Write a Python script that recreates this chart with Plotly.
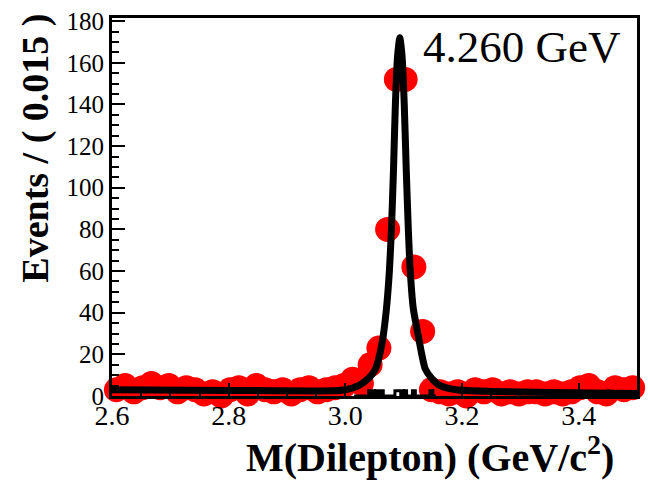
import plotly.graph_objects as go

# ---- data ----
bin_centers = [2.6075, 2.6225, 2.6375, 2.6525, 2.6675, 2.6825, 2.6975, 2.7125, 2.7275, 2.7425,
               2.7575, 2.7725, 2.7875, 2.8025, 2.8175, 2.8325, 2.8475, 2.8625, 2.8775, 2.8925,
               2.9075, 2.9225, 2.9375, 2.9525, 2.9675, 2.9825, 2.9975, 3.0125, 3.0275, 3.0425,
               3.0575, 3.0725, 3.0875, 3.1025, 3.1175, 3.1325, 3.1475, 3.1625, 3.1775, 3.1925,
               3.2075, 3.2225, 3.2375, 3.2525, 3.2675, 3.2825, 3.2975, 3.3125, 3.3275, 3.3425,
               3.3575, 3.3725, 3.3875, 3.4025, 3.4175, 3.4325, 3.4475, 3.4625, 3.4775, 3.4925]
counts = [3, 5, 2, 4, 6, 4, 5, 2, 4, 3,
          1, 2, 0, 3, 4, 1, 5, 3, 2, 3,
          1, 3, 4, 2, 3, 4, 5, 8, 6, 15,
          23, 80, 152, 152, 62, 31, 3, 2, 1, 2,
          0, 3, 2, 3, 1, 2, 1, 2, 2, 1,
          2, 1, 2, 4, 5, 2, 1, 4, 3, 4]

fit_x = [2.60, 2.80, 2.98, 3.00, 3.0227, 3.04, 3.0517, 3.059, 3.065, 3.0705, 3.0755, 3.079,
         3.0825, 3.0858, 3.0895, 3.0934, 3.0973, 3.101, 3.1045, 3.108, 3.1113, 3.1165,
         3.125, 3.131, 3.137, 3.148, 3.1625, 3.19, 3.25, 3.35, 3.50]
fit_y = [3.0, 2.7, 2.5, 3.0, 5.0, 8.5, 13, 20, 29, 42, 60, 80,
         108, 140, 163, 172, 163, 140, 108, 80, 60, 42,
         29, 20, 13, 8.5, 5.0, 3.0, 2.2, 1.7, 1.2]

bkg_edges = [3.015, 3.020, 3.025, 3.030, 3.035, 3.040, 3.045, 3.050, 3.055, 3.060,
             3.065, 3.070, 3.075, 3.080, 3.085, 3.090, 3.095, 3.100, 3.105, 3.110,
             3.115, 3.120, 3.125, 3.130, 3.135, 3.140, 3.145, 3.150, 3.155]
bkg_vals = [0, 0, 0, 0, 0, 2.5, 0, 2.5, 0, 2.5,
            0, 0, 0, 0, 2.5, 2.5, 0, 2.5, 0, 0,
            2.5, 0, 0, 0, 0, 0, 2.5, 0]

x_ticks = [2.6, 2.8, 3.0, 3.2, 3.4]
x_ticklabels = ["2.6", "2.8", "3.0", "3.2", "3.4"]
y_ticks = [0, 20, 40, 60, 80, 100, 120, 140, 160, 180]

energy_label = "4.260 GeV"
x_title = "M(Dilepton) (GeV/c<sup>2</sup>)"
y_title = "Events / ( 0.015 )"

SERIF = "Liberation Serif, Times New Roman, serif"

fig = go.Figure()

fig.add_trace(go.Scatter(
    x=bin_centers, y=counts, mode="markers",
    marker=dict(symbol="circle", size=25, color="#ff0000", line=dict(width=0)),
    cliponaxis=False, showlegend=False))

fig.add_trace(go.Scatter(
    x=bkg_edges, y=bkg_vals + [bkg_vals[-1]], mode="lines",
    line=dict(color="black", width=3, shape="hv"),
    showlegend=False))

fig.add_trace(go.Scatter(
    x=fit_x, y=fit_y, mode="lines",
    line=dict(color="black", width=7, shape="spline", smoothing=0.6),
    showlegend=False))

fig.update_layout(
    width=648, height=482,
    margin=dict(l=112, r=8, t=13, b=86),
    paper_bgcolor="white", plot_bgcolor="white",
    font=dict(family=SERIF, color="black"),
    xaxis=dict(range=[2.6, 3.5], tickvals=x_ticks, ticktext=x_ticklabels,
               ticks="inside", ticklen=13, tickwidth=1.5, tickcolor="black",
               ticklabelstandoff=-8,
               minor=dict(dtick=0.05, ticks="inside", ticklen=7, tickwidth=1.5, tickcolor="black"),
               showline=True, linewidth=3, linecolor="black", mirror=True,
               showgrid=False, zeroline=False,
               tickfont=dict(family=SERIF, size=28, color="black")),
    yaxis=dict(range=[0, 181.5], tickvals=y_ticks,
               ticks="inside", ticklen=13, tickwidth=1.5, tickcolor="black",
               minor=dict(dtick=5, ticks="inside", ticklen=7, tickwidth=1.5, tickcolor="black"),
               showline=True, linewidth=3, linecolor="black", mirror=True,
               showgrid=False, zeroline=False,
               tickfont=dict(family=SERIF, size=25, color="black")),
    annotations=[
        dict(text=energy_label, xref="paper", yref="paper", x=0.589, y=0.924,
             xanchor="left", yanchor="middle", showarrow=False,
             font=dict(family=SERIF, size=45, color="black")),
        dict(text="<b>" + x_title + "</b>", xref="paper", yref="paper",
             x=(432 - 112) / 528, y=-(455 - 396) / 383,
             xanchor="center", yanchor="middle", showarrow=False,
             font=dict(family=SERIF, size=40, color="black")),
        dict(text="<b>" + y_title + "</b>", xref="paper", yref="paper",
             x=-(112 - 35) / 528, y=1 - (145 - 13) / 383, textangle=-90,
             xanchor="center", yanchor="middle", showarrow=False,
             font=dict(family=SERIF, size=38, color="black")),
    ],
)

fig.write_html("out.html")
